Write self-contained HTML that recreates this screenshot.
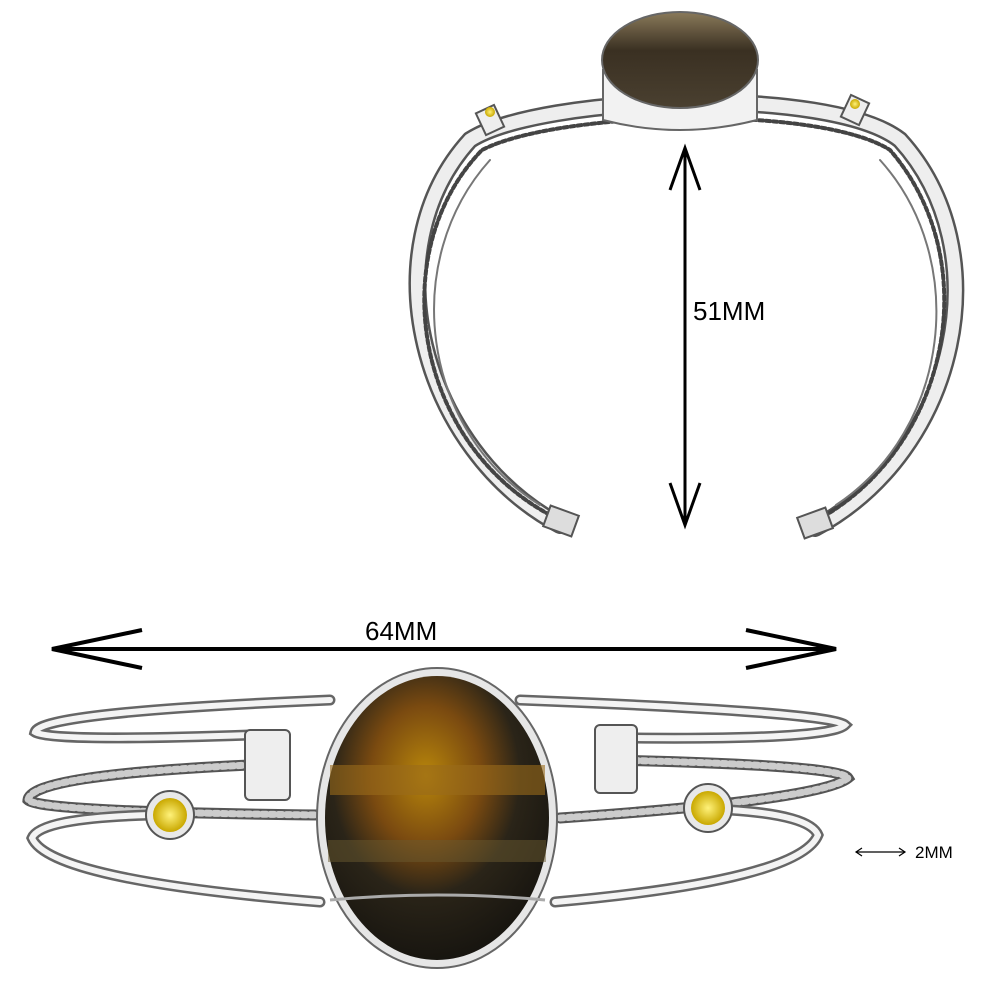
<!DOCTYPE html>
<html><head><meta charset="utf-8"><style>
html,body{margin:0;padding:0;background:#fff;width:1000px;height:1000px;overflow:hidden}
text{font-family:"Liberation Sans",sans-serif}
</style></head><body>
<svg width="1000" height="1000" viewBox="0 0 1000 1000" xmlns="http://www.w3.org/2000/svg">
<defs>
<radialGradient id="tiger" cx="0.45" cy="0.35" r="0.7">
<stop offset="0" stop-color="#b8860b"/><stop offset="0.35" stop-color="#7a4a10"/><stop offset="0.6" stop-color="#2a2418"/><stop offset="1" stop-color="#14120e"/>
</radialGradient>
<linearGradient id="smoky" x1="0" y1="0" x2="0" y2="1">
<stop offset="0" stop-color="#8a7a5a"/><stop offset="0.4" stop-color="#3a3022"/><stop offset="1" stop-color="#4a4030"/>
</linearGradient>
<radialGradient id="cit" cx="0.5" cy="0.5" r="0.5"><stop offset="0" stop-color="#fff27a"/><stop offset="1" stop-color="#c9a800"/></radialGradient>
</defs>
<!-- top bracelet -->
<g fill="none" stroke-linecap="round">
<path d="M560 525 C 420 450, 370 250, 470 140 C 540 95, 830 85, 900 140 C 1000 250, 960 450, 815 528" stroke="#555" stroke-width="18"/>
<path d="M560 525 C 420 450, 370 250, 470 140 C 540 95, 830 85, 900 140 C 1000 250, 960 450, 815 528" stroke="#eee" stroke-width="13"/>
<path d="M550 515 C 412 440, 385 250, 482 150 C 560 110, 820 105, 890 150 C 985 260, 950 440, 826 515" stroke="#444" stroke-width="4" stroke-dasharray="4 3"/>
<path d="M540 505 C 420 430, 400 260, 490 160" stroke="#777" stroke-width="2"/>
<path d="M836 505 C 950 430, 970 260, 880 160" stroke="#777" stroke-width="2"/>
</g>
<rect x="546" y="510" width="30" height="22" fill="#ddd" stroke="#555" stroke-width="2" transform="rotate(20 561 521)"/>
<rect x="800" y="512" width="30" height="22" fill="#ddd" stroke="#555" stroke-width="2" transform="rotate(-20 815 523)"/>
<path d="M603 70 L603 120 Q680 140 757 120 L757 70 Z" fill="#f2f2f2" stroke="#666" stroke-width="2"/>
<ellipse cx="680" cy="60" rx="78" ry="48" fill="url(#smoky)" stroke="#666" stroke-width="2"/>
<rect x="480" y="108" width="20" height="24" fill="#eee" stroke="#555" stroke-width="2" transform="rotate(-25 490 120)"/>
<circle cx="490" cy="112" r="5" fill="url(#cit)"/>
<rect x="845" y="98" width="20" height="24" fill="#eee" stroke="#555" stroke-width="2" transform="rotate(25 855 110)"/>
<circle cx="855" cy="104" r="5" fill="url(#cit)"/>
<!-- vertical arrow -->
<g stroke="#000" stroke-width="3" fill="none">
<line x1="685" y1="148" x2="685" y2="525"/>
<polyline points="670,190 685,148 700,190"/>
<polyline points="670,483 685,525 700,483"/>
</g>
<text x="693" y="320" font-size="26">51MM</text>
<!-- horizontal arrow -->
<g stroke="#000" stroke-width="4" fill="none">
<line x1="52" y1="649" x2="836" y2="649"/>
<polyline points="142,630 52,649 142,668"/>
<polyline points="746,630 836,649 746,668"/>
</g>
<text x="365" y="640" font-size="26">64MM</text>
<!-- bottom bracelet -->
<g fill="none" stroke-linecap="round">
<path d="M330 700 Q 40 712 35 732 Q 50 742 250 735" stroke="#666" stroke-width="11"/>
<path d="M330 700 Q 40 712 35 732 Q 50 742 250 735" stroke="#f4f4f4" stroke-width="6"/>
<path d="M520 700 Q 830 712 845 725 Q 830 740 630 738" stroke="#666" stroke-width="11"/>
<path d="M520 700 Q 830 712 845 725 Q 830 740 630 738" stroke="#f4f4f4" stroke-width="6"/>
<path d="M250 765 Q 30 775 28 800 Q 40 812 320 815" stroke="#555" stroke-width="11"/>
<path d="M250 765 Q 30 775 28 800 Q 40 812 320 815" stroke="#ccc" stroke-width="7" stroke-dasharray="4 4"/>
<path d="M610 760 Q 840 765 848 778 Q 820 800 560 818" stroke="#555" stroke-width="11"/>
<path d="M610 760 Q 840 765 848 778 Q 820 800 560 818" stroke="#ccc" stroke-width="7" stroke-dasharray="4 4"/>
<path d="M320 902 Q 50 880 32 838 Q 40 818 150 815" stroke="#666" stroke-width="11"/>
<path d="M320 902 Q 50 880 32 838 Q 40 818 150 815" stroke="#f4f4f4" stroke-width="6"/>
<path d="M555 902 Q 800 880 818 835 Q 810 815 730 810" stroke="#666" stroke-width="11"/>
<path d="M555 902 Q 800 880 818 835 Q 810 815 730 810" stroke="#f4f4f4" stroke-width="6"/>
</g>
<rect x="245" y="730" width="45" height="70" rx="5" fill="#eee" stroke="#555" stroke-width="2"/>
<rect x="595" y="725" width="42" height="68" rx="5" fill="#eee" stroke="#555" stroke-width="2"/>
<circle cx="170" cy="815" r="24" fill="#e8e8e8" stroke="#555" stroke-width="2"/>
<circle cx="170" cy="815" r="17" fill="url(#cit)"/>
<circle cx="708" cy="808" r="24" fill="#e8e8e8" stroke="#555" stroke-width="2"/>
<circle cx="708" cy="808" r="17" fill="url(#cit)"/>
<ellipse cx="437" cy="818" rx="120" ry="150" fill="#e6e6e6" stroke="#666" stroke-width="2"/>
<ellipse cx="437" cy="818" rx="112" ry="142" fill="url(#tiger)"/>
<rect x="330" y="765" width="215" height="30" fill="#9a6a1a" opacity="0.6"/>
<rect x="328" y="840" width="218" height="22" fill="#6a5a30" opacity="0.5"/>
<path d="M330 900 Q437 890 545 900" stroke="#aaa" stroke-width="3" fill="none"/>
<!-- 2MM -->
<g stroke="#000" stroke-width="1.2" fill="none">
<line x1="856" y1="852" x2="905" y2="852"/>
<polyline points="862,848 856,852 862,856"/>
<polyline points="899,848 905,852 899,856"/>
</g>
<text x="915" y="858" font-size="17">2MM</text>
</svg>
</body></html>
